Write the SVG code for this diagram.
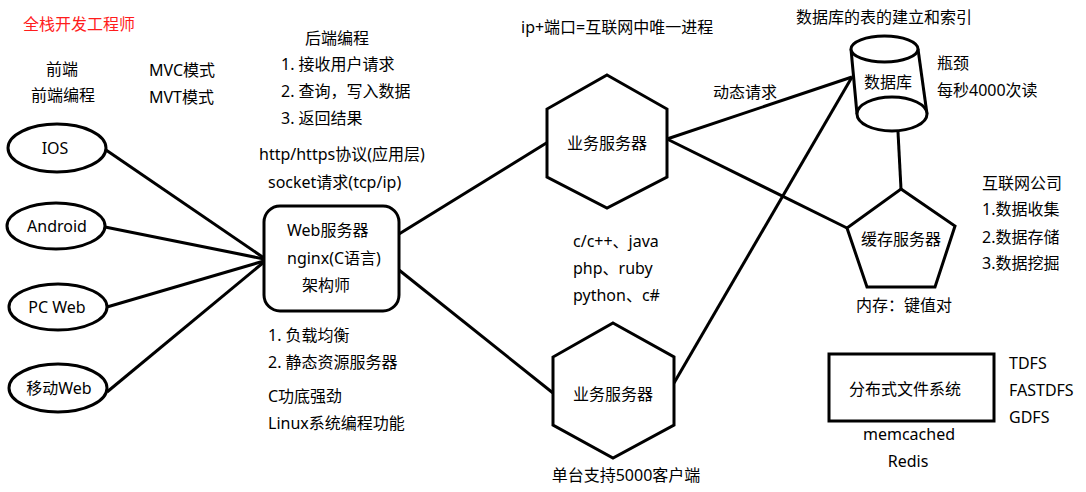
<svg xmlns="http://www.w3.org/2000/svg" width="1086" height="492" viewBox="0 0 1086 492">
<style>
text{font-family:"Noto Sans","Noto Sans CJK SC",sans-serif;font-size:16px;fill:#000}
.c{text-anchor:middle}
.red{fill:#ff1c1c}
.s{fill:#fff;stroke:#000;stroke-width:3}
.ln{stroke:#000;stroke-width:3;fill:none}
</style>
<rect width="1086" height="492" fill="#fff"/>
<g id="connectors">
<line class="ln" x1="106" y1="150" x2="264" y2="258"/>
<line class="ln" x1="105" y1="227" x2="264" y2="259"/>
<line class="ln" x1="107" y1="307" x2="264" y2="261"/>
<line class="ln" x1="107" y1="392" x2="264" y2="262"/>
<line class="ln" x1="399" y1="234" x2="548" y2="142"/>
<line class="ln" x1="399" y1="270" x2="553" y2="393"/>
<line class="ln" x1="667" y1="139" x2="852" y2="77"/>
<line class="ln" x1="667" y1="139" x2="847" y2="228"/>
<line class="ln" x1="674" y1="383" x2="852" y2="77"/>
<line class="ln" x1="898" y1="132" x2="901" y2="189"/>
</g>
<g id="ios"><ellipse class="s" cx="57" cy="148" rx="49" ry="24"/><text class="c" x="55" y="154">IOS</text></g>
<g id="android"><ellipse class="s" cx="56" cy="226" rx="49" ry="23"/><text class="c" x="57" y="232">Android</text></g>
<g id="pcweb"><ellipse class="s" cx="58" cy="307" rx="49" ry="23"/><text class="c" x="57" y="313">PC Web</text></g>
<g id="mobileweb"><ellipse class="s" cx="58" cy="388" rx="49" ry="24"/><text class="c" x="59" y="394">移动Web</text></g>
<g id="webserver">
<rect class="s" x="264" y="206" width="135" height="105" rx="16"/>
<text x="287" y="236">Web服务器</text>
<text x="287" y="264">nginx(C语言)</text>
<text x="302" y="291">架构师</text>
</g>
<g id="bizserver1">
<polygon class="s" points="607,75 667,109 667,177 607,208 547,177 547,109"/>
<text class="c" x="607" y="149">业务服务器</text>
</g>
<g id="bizserver2">
<polygon class="s" points="613,323 674,357 674,425 613,458 553,425 553,357"/>
<text class="c" x="613" y="400">业务服务器</text>
</g>
<g id="database">
<path d="M851,49 L857,114 L927,114 L918,49 Z" fill="#fff"/>
<line class="ln" x1="851" y1="49" x2="857" y2="114"/>
<line class="ln" x1="918" y1="49" x2="927" y2="114"/>
<ellipse class="s" cx="892" cy="114" rx="35" ry="17"/>
<ellipse class="s" cx="884.5" cy="49" rx="33.5" ry="13"/>
<text class="c" x="888" y="88">数据库</text>
</g>
<g id="cache">
<polygon class="s" points="901,189 955,226 935,287 867,287 847,228"/>
<text class="c" x="901" y="245">缓存服务器</text>
</g>
<g id="dfs">
<rect class="s" x="829" y="354" width="165" height="67"/>
<text class="c" x="905" y="395">分布式文件系统</text>
</g>
<g id="labels">
<text class="red" x="23" y="30">全栈开发工程师</text>
<text class="c" x="62" y="75">前端</text>
<text class="c" x="63" y="101">前端编程</text>
<text x="149" y="76">MVC模式</text>
<text x="149" y="103">MVT模式</text>
<text class="c" x="337" y="44">后端编程</text>
<text x="281" y="70">1. 接收用户请求</text>
<text x="281" y="97">2. 查询，写入数据</text>
<text x="281" y="124">3. 返回结果</text>
<text x="259" y="160">http/https协议(应用层)</text>
<text x="268" y="188">socket请求(tcp/ip)</text>
<text x="268" y="341">1. 负载均衡</text>
<text x="268" y="368">2. 静态资源服务器</text>
<text x="268" y="402">C功底强劲</text>
<text x="268" y="429">Linux系统编程功能</text>
<text x="521" y="33">ip+端口=互联网中唯一进程</text>
<text x="713" y="98">动态请求</text>
<text x="796" y="23">数据库的表的建立和索引</text>
<text x="937" y="69">瓶颈</text>
<text x="937" y="96">每秒4000次读</text>
<text x="982" y="189">互联网公司</text>
<text x="982" y="215">1.数据收集</text>
<text x="982" y="243">2.数据存储</text>
<text x="982" y="269">3.数据挖掘</text>
<text class="c" x="904" y="311">内存：键值对</text>
<text x="573" y="247">c/c++、java</text>
<text x="573" y="274">php、ruby</text>
<text x="573" y="301">python、c#</text>
<text class="c" x="626" y="481">单台支持5000客户端</text>
<text x="1009" y="369">TDFS</text>
<text x="1009" y="396">FASTDFS</text>
<text x="1009" y="423">GDFS</text>
<text class="c" x="909" y="440">memcached</text>
<text class="c" x="908" y="467">Redis</text>
</g>
</svg>
